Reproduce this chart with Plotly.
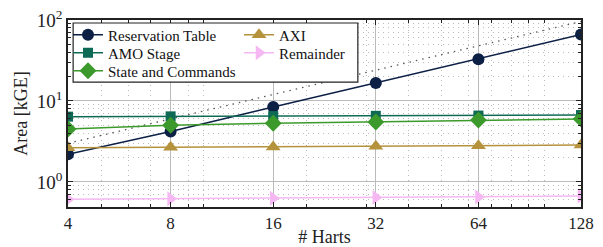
import plotly.graph_objects as go

harts = [4, 8, 16, 32, 64, 128]
reservation_table = [2.2, 4.2, 8.4, 16.7, 32.7, 66.4]
amo_stage = [6.4, 6.45, 6.5, 6.55, 6.6, 6.7]
state_commands = [4.5, 5.0, 5.3, 5.5, 5.8, 6.0]
axi = [2.65, 2.68, 2.7, 2.75, 2.8, 2.85]
remainder = [0.61, 0.62, 0.63, 0.64, 0.65, 0.67]
linear_ref = [3, 6, 12, 24, 48, 96]

x_ticks = [4, 8, 16, 32, 64, 128]
x_minor = [5, 6, 7, 9, 10, 20, 30, 40, 50, 60, 70, 80, 90, 100]
y_ticks = [1, 10, 100]
y_ticktext = ["10<sup>0</sup>", "10<sup>1</sup>", "10<sup>2</sup>"]
y_minor = [0.5, 0.6, 0.7, 0.8, 0.9, 2, 3, 4, 5, 6, 7, 8, 9, 20, 30, 40, 50, 60, 70, 80, 90]

FONT = "Liberation Serif"

fig = go.Figure()
fig.add_trace(go.Scatter(x=harts, y=linear_ref, mode="lines",
                         line=dict(color="#555555", width=1.3, dash="1.5px,5px"),
                         showlegend=False, hoverinfo="skip"))

series = [
    ("Reservation Table", reservation_table, "#0c1f45", "circle", 12, "legend"),
    ("AMO Stage", amo_stage, "#0f6a55", "square", 10, "legend2"),
    ("State and Commands", state_commands, "#3c9a2c", "diamond", 13, "legend3"),
    ("AXI", axi, "#b5923c", "triangle-up", 13, "legend"),
    ("Remainder", remainder, "#f5b8f2", "triangle-right", 13, "legend2"),
]
for name, vals, col, sym, sz, lg in series:
    fig.add_trace(go.Scatter(x=harts, y=vals, name=name, mode="lines+markers",
                             line=dict(color=col, width=1.5),
                             marker=dict(color=col, symbol=sym, size=sz),
                             legend=lg))

axis_common = dict(
    type="log", showline=True, linecolor="#222222", linewidth=1.5, mirror="allticks",
    ticks="inside", ticklen=5, tickcolor="#222222",
    showgrid=True, gridcolor="#bbbbbb", gridwidth=1,
    zeroline=False, automargin=False,
)

fig.update_xaxes(**axis_common, range=[0.602, 2.1072],
                 tickfont=dict(family=FONT, size=17, color="#222222"),
                 tickmode="array", tickvals=x_ticks, ticktext=[str(v) for v in x_ticks],
                 title=dict(text="# Harts", font=dict(family=FONT, size=18, color="#222222"), standoff=2),
                 minor=dict(tickmode="array", tickvals=x_minor, ticks="inside", ticklen=3,
                            tickcolor="#222222", showgrid=True, gridcolor="#bbbbbb",
                            griddash="1px,4px", gridwidth=1))
fig.update_yaxes(**axis_common, range=[-0.31, 2.0],
                 tickfont=dict(family=FONT, size=19, color="#222222"),
                 tickmode="array", tickvals=y_ticks, ticktext=y_ticktext,
                 title=dict(text="Area [kGE]", font=dict(family=FONT, size=18, color="#222222"), standoff=4),
                 minor=dict(tickmode="array", tickvals=y_minor, ticks="inside", ticklen=3,
                            tickcolor="#222222", showgrid=True, gridcolor="#bbbbbb",
                            griddash="1px,4px", gridwidth=1))

leg_font = dict(family=FONT, size=15, color="#111111")
leg_common = dict(orientation="h", x=0, xanchor="left", yanchor="middle",
                  bgcolor="rgba(0,0,0,0)", font=leg_font, itemwidth=30,
                  entrywidth=126, entrywidthmode="pixels")
fig.update_layout(
    width=603, height=247,
    font=dict(family=FONT, color="#222222"),
    margin=dict(l=68, r=22, t=20, b=40),
    plot_bgcolor="white", paper_bgcolor="white",
    legend=dict(**leg_common, y=0.92),
    legend2=dict(**leg_common, y=0.824),
    legend3=dict(**leg_common, y=0.727),
    shapes=[dict(type="rect", xref="paper", yref="paper", x0=0.01, x1=0.565, y0=0.668, y1=0.984,
                 line=dict(color="#222222", width=1.2), fillcolor="white", layer="above")],
)

fig.write_html("out.html", config={"displayModeBar": False},
               post_script="document.body.style.margin='0';")
